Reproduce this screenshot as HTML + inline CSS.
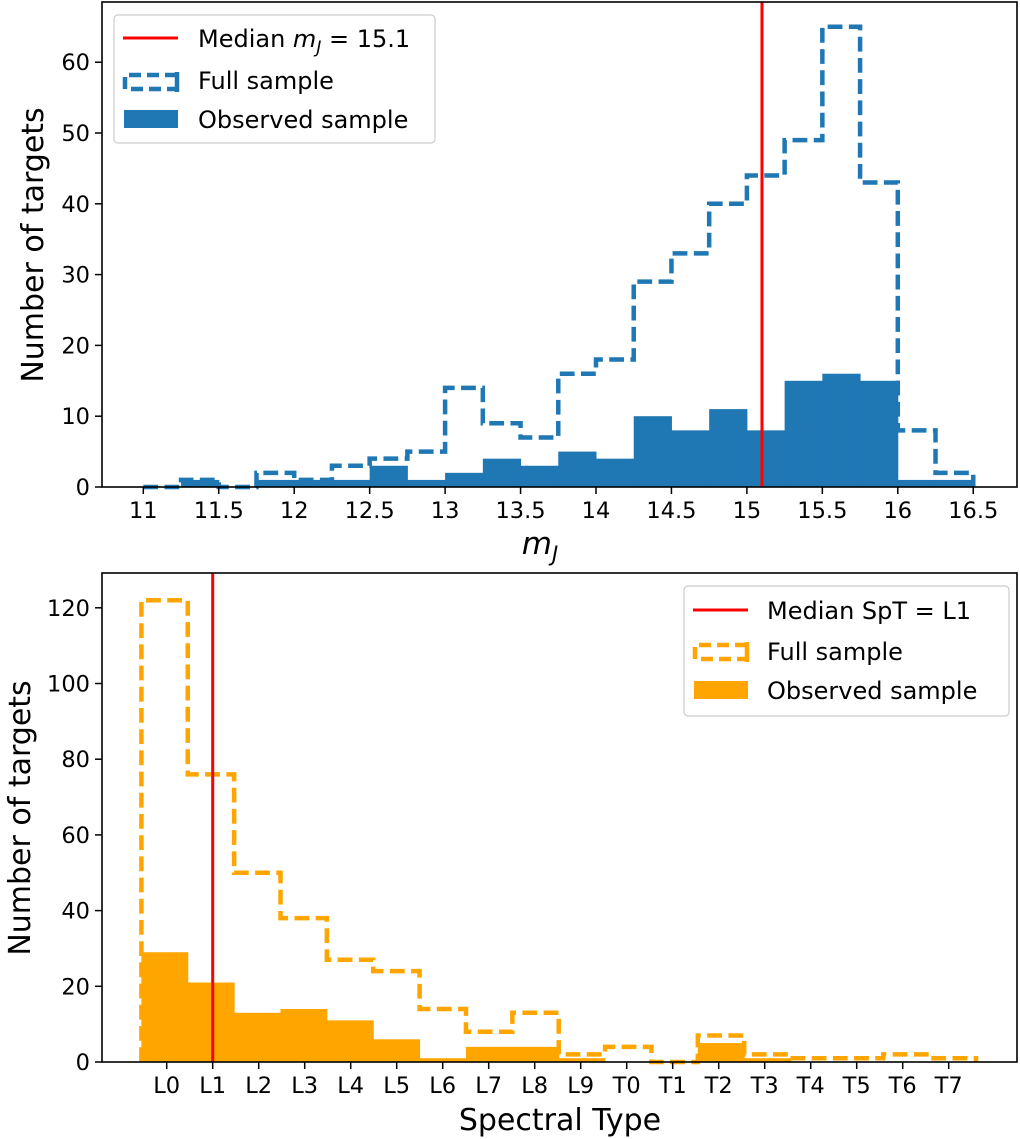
<!DOCTYPE html>
<html><head><meta charset="utf-8"><style>
body{margin:0;background:#fff}
svg{display:block;font-family:"DejaVu Sans","Liberation Sans",sans-serif}
</style></head><body>
<svg id="chart" width="1020" height="1139" viewBox="0 0 1020 1139" xmlns="http://www.w3.org/2000/svg"></svg>
<script>
// Top panel data (bins of 0.25 from 11.0 to 16.5)
const topBinStart = 11.0;
const topBinWidth = 0.25;
const topFull = [0,1,0,2,1,3,4,5,14,9,7,16,18,29,33,40,44,49,65,43,8,2];
const topObserved = [0,1,0,1,1,1,3,1,2,4,3,5,4,10,8,11,8,15,16,15,1,1];
const topMedian = 15.1;
const topXTicks = [11,11.5,12,12.5,13,13.5,14,14.5,15,15.5,16,16.5];
const topYTicks = [0,10,20,30,40,50,60];
// Bottom panel data
const spt = ["L0","L1","L2","L3","L4","L5","L6","L7","L8","L9","T0","T1","T2","T3","T4","T5","T6","T7"];
const botFull = [122,76,50,38,27,24,14,8,13,2,4,0,7,2,1,1,2,1];
const botObserved = [29,21,13,14,11,6,1,4,4,1,0,0,5,1,0,0,0,0];
const botMedian = 1;
const botYTicks = [0,20,40,60,80,100,120];

const NS="http://www.w3.org/2000/svg";
const svg=document.getElementById('chart');
function mk(tag,attrs,parent){const e=document.createElementNS(NS,tag);for(const k in attrs)e.setAttribute(k,attrs[k]);(parent||svg).appendChild(e);return e;}
const TF=22.5, AF=30, LF=24;

// ---------- TOP ----------
const T={l:102,r:1017,t:2,b:487};
const tx=v=>143.3+(v-11)*150.9;
const ty=v=>487-v*7.08;
const gTop=mk('g',{});


topObserved.forEach((v,i)=>{
  const x0=tx(topBinStart+i*topBinWidth),x1=tx(topBinStart+(i+1)*topBinWidth);
  if(v<=0)return;
  const r=mk('rect',{x:x0,y:ty(v),width:x1-x0+0.5,height:ty(0)-ty(v),fill:'#1f77b4'},gTop);
  
  
});
{
  let d='M'+tx(topBinStart)+','+ty(0);
  topFull.forEach((v,i)=>{d+=' L'+tx(topBinStart+i*topBinWidth)+','+ty(v)+' L'+tx(topBinStart+(i+1)*topBinWidth)+','+ty(v);});
  d+=' L'+tx(topBinStart+topFull.length*topBinWidth)+','+ty(0);
  const p=mk('path',{d:d,fill:'none',stroke:'#1f77b4','stroke-width':4.5,'stroke-dasharray':'14.8,6.4'},gTop);
  
  
}
{const l=mk('line',{x1:tx(topMedian),x2:tx(topMedian),y1:T.t,y2:T.b,stroke:'#ff0000','stroke-width':3},gTop);

}
mk('rect',{x:T.l,y:T.t,width:T.r-T.l,height:T.b-T.t,fill:'none',stroke:'#000','stroke-width':1.6},gTop);
topXTicks.forEach(v=>{
  mk('line',{x1:tx(v),x2:tx(v),y1:T.b,y2:T.b+7,stroke:'#000','stroke-width':1.5},gTop);
  const t=mk('text',{x:tx(v),y:T.b+31,'text-anchor':'middle','font-size':TF},gTop);t.textContent=v;
  
  
});
topYTicks.forEach(v=>{
  mk('line',{x1:T.l-7,x2:T.l,y1:ty(v),y2:ty(v),stroke:'#000','stroke-width':1.5},gTop);
  const t=mk('text',{x:T.l-12,y:ty(v)+8,'text-anchor':'end','font-size':TF},gTop);t.textContent=v;
  
  
});
{const t=mk('text',{x:540,y:554,'text-anchor':'middle','font-size':AF+1,'font-style':'italic'},gTop);
t.innerHTML='m<tspan font-size="21" dy="7">J</tspan>';

}
{const t=mk('text',{x:0,y:0,'text-anchor':'middle','font-size':AF,transform:'translate(43,245) rotate(-90)'},gTop);
t.textContent='Number of targets';

}
{const g=mk('g',{},gTop);


mk('rect',{x:114,y:15,width:321,height:128,rx:4,fill:'#fff',stroke:'#ccc','stroke-width':1.2},g);
mk('line',{x1:123,x2:178,y1:38,y2:38,stroke:'#ff0000','stroke-width':3},g);
let t=mk('text',{x:198,y:47,'font-size':LF},g);t.innerHTML='Median <tspan font-style="italic">m</tspan><tspan font-style="italic" font-size="17" dy="6">J</tspan><tspan dy="-6"> = 15.1</tspan>';
mk('path',{d:'M177,75 L125,75 L125,89 L177,89',fill:'none',stroke:'#1f77b4','stroke-width':4.5,'stroke-dasharray':'12,6'},g);
mk('line',{x1:177,x2:177,y1:72,y2:92,stroke:'#1f77b4','stroke-width':4.5},g);
t=mk('text',{x:198,y:89,'font-size':LF},g);t.textContent='Full sample';
mk('rect',{x:124,y:110,width:54,height:18,fill:'#1f77b4'},g);
t=mk('text',{x:198,y:128,'font-size':LF},g);t.textContent='Observed sample';}

// ---------- BOTTOM ----------
const B={l:102,r:1017,t:573,b:1062};
const bStep=46, bx0=166.7;
const bx=i=>bx0+i*bStep;
const edge=k=>bx(-0.55+k*1.008);
const by=v=>1062-v*3.785;
const gBot=mk('g',{});


botObserved.forEach((v,i)=>{
  if(v<=0)return;
  const r=mk('rect',{x:edge(i),y:by(v),width:edge(i+1)-edge(i)+0.5,height:by(0)-by(v),fill:'#ffa500'},gBot);
  
  
});
{
  let d='M'+edge(0)+','+by(0);
  botFull.forEach((v,i)=>{d+=' L'+edge(i)+','+by(v)+' L'+edge(i+1)+','+by(v);});
  d+=' L'+edge(botFull.length)+','+by(0);
  const p=mk('path',{d:d,fill:'none',stroke:'#ffa500','stroke-width':4.5,'stroke-dasharray':'14.8,6.4'},gBot);
  
  
}
{const l=mk('line',{x1:bx(botMedian),x2:bx(botMedian),y1:B.t,y2:B.b,stroke:'#ff0000','stroke-width':3},gBot);

}
mk('rect',{x:B.l,y:B.t,width:B.r-B.l,height:B.b-B.t,fill:'none',stroke:'#000','stroke-width':1.6},gBot);
spt.forEach((s,i)=>{
  mk('line',{x1:bx(i),x2:bx(i),y1:B.b,y2:B.b+7,stroke:'#000','stroke-width':1.5},gBot);
  const t=mk('text',{x:bx(i),y:B.b+31,'text-anchor':'middle','font-size':TF},gBot);t.textContent=s;
  
  
});
botYTicks.forEach(v=>{
  mk('line',{x1:B.l-7,x2:B.l,y1:by(v),y2:by(v),stroke:'#000','stroke-width':1.5},gBot);
  const t=mk('text',{x:B.l-12,y:by(v)+8,'text-anchor':'end','font-size':TF},gBot);t.textContent=v;
  
  
});
{const t=mk('text',{x:560,y:1130,'text-anchor':'middle','font-size':AF},gBot);
t.textContent='Spectral Type';

}
{const t=mk('text',{x:0,y:0,'text-anchor':'middle','font-size':AF,transform:'translate(30,818) rotate(-90)'},gBot);
t.textContent='Number of targets';

}
{const g=mk('g',{},gBot);


mk('rect',{x:684,y:586,width:325,height:130,rx:4,fill:'#fff',stroke:'#ccc','stroke-width':1.2},g);
mk('line',{x1:693,x2:748,y1:610,y2:610,stroke:'#ff0000','stroke-width':3},g);
let t=mk('text',{x:767,y:619,'font-size':LF},g);t.textContent='Median SpT = L1';
mk('path',{d:'M747,645 L695,645 L695,659 L747,659',fill:'none',stroke:'#ffa500','stroke-width':4.5,'stroke-dasharray':'12,6'},g);
mk('line',{x1:747,x2:747,y1:642,y2:662,stroke:'#ffa500','stroke-width':4.5},g);
t=mk('text',{x:767,y:660,'font-size':LF},g);t.textContent='Full sample';
mk('rect',{x:694,y:681,width:54,height:18,fill:'#ffa500'},g);
t=mk('text',{x:767,y:699,'font-size':LF},g);t.textContent='Observed sample';}
</script>
</body></html>
